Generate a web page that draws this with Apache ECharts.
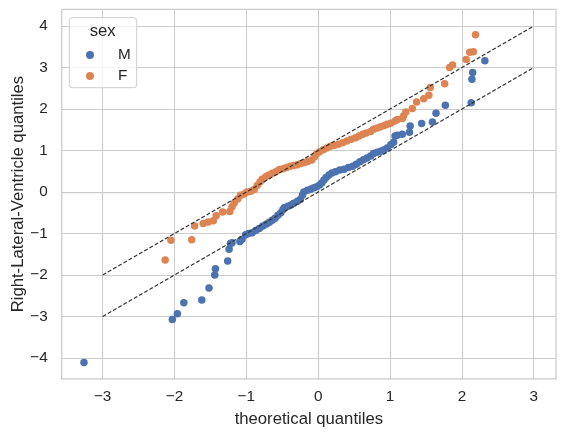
<!DOCTYPE html>
<html><head><meta charset="utf-8">
<script src="https://cdn.jsdelivr.net/npm/echarts@6/dist/echarts.min.js"></script>
<style>html,body{margin:0;padding:0;background:#fff}#c{width:567px;height:437px}</style>
</head><body><div id="c"></div>
<script>
const xTicks = [-3, -2, -1, 0, 1, 2, 3];
const yTicks = [-4, -3, -2, -1, 0, 1, 2, 3, 4];
const maleQQ = [
[-3.26,-4.11],[-2.03,-3.07],[-1.96,-2.93],[-1.87,-2.67],[-1.62,-2.60],[-1.52,-2.31],[-1.44,-2.00],[-1.43,-1.85],
[-1.26,-1.66],[-1.24,-1.38],[-1.22,-1.24],[-1.20,-1.22],[-1.09,-1.19],[-1.06,-1.14],[-1.01,-1.03],[-0.97,-1.00],
[-0.92,-0.98],[-0.87,-0.93],[-0.82,-0.88],[-0.77,-0.82],[-0.72,-0.77],[-0.68,-0.73],[-0.64,-0.68],[-0.60,-0.63],
[-0.56,-0.56],[-0.52,-0.50],[-0.49,-0.42],[-0.47,-0.37],[-0.42,-0.34],[-0.38,-0.31],[-0.34,-0.27],[-0.29,-0.22],
[-0.25,-0.18],[-0.22,-0.08],[-0.20,0.00],[-0.15,0.04],[-0.10,0.07],[-0.06,0.10],[-0.02,0.13],[0.02,0.17],
[0.05,0.22],[0.08,0.29],[0.11,0.35],[0.15,0.41],[0.19,0.46],[0.24,0.49],[0.30,0.53],[0.36,0.55],[0.42,0.59],
[0.48,0.62],[0.53,0.67],[0.58,0.73],[0.63,0.78],[0.68,0.82],[0.73,0.87],[0.77,0.93],[0.82,0.96],[0.87,0.98],
[0.91,1.01],[0.96,1.06],[1.01,1.14],[1.05,1.20],[1.07,1.35],[1.10,1.37],[1.17,1.39],[1.27,1.44],[1.28,1.59],
[1.44,1.65],[1.59,1.69],[1.64,1.90],[1.77,2.09],[2.13,2.15],[2.14,2.72],[2.15,2.88],[2.32,3.16]
];
const femaleQQ = [
[-2.13,-1.64],[-2.05,-1.16],[-1.76,-1.15],[-1.72,-0.82],[-1.60,-0.76],[-1.53,-0.72],[-1.46,-0.69],[-1.42,-0.57],
[-1.33,-0.48],[-1.23,-0.47],[-1.20,-0.36],[-1.17,-0.27],[-1.12,-0.17],[-1.08,-0.08],[-1.03,-0.05],[-0.99,0.00],
[-0.94,0.02],[-0.89,0.06],[-0.85,0.16],[-0.81,0.24],[-0.78,0.31],[-0.73,0.37],[-0.69,0.41],[-0.64,0.45],
[-0.59,0.49],[-0.54,0.54],[-0.49,0.56],[-0.44,0.59],[-0.39,0.62],[-0.34,0.64],[-0.29,0.66],[-0.24,0.69],
[-0.19,0.71],[-0.14,0.74],[-0.09,0.77],[-0.05,0.85],[-0.02,0.92],[0.02,0.97],[0.07,1.02],[0.12,1.06],
[0.17,1.10],[0.22,1.12],[0.28,1.15],[0.34,1.19],[0.40,1.23],[0.46,1.27],[0.52,1.31],[0.57,1.35],[0.62,1.39],
[0.67,1.42],[0.73,1.46],[0.77,1.51],[0.82,1.54],[0.87,1.57],[0.92,1.60],[0.96,1.63],[1.01,1.66],[1.07,1.71],
[1.10,1.75],[1.17,1.77],[1.19,1.84],[1.22,1.93],[1.31,2.01],[1.37,2.17],[1.47,2.25],[1.54,2.33],[1.56,2.52],
[1.76,2.61],[1.83,3.00],[1.87,3.06],[2.06,3.19],[2.11,3.37],[2.16,3.38],[2.19,3.79]
];
const refUpper = [[-3,-2],[3,4]];
const refLower = [[-3,-3],[3,3]];
const seriesNames = ['M', 'F'];
const colors = ['#4c72b0', '#dd8452'];

const FONT = '"Liberation Sans", Arial, sans-serif';
const TXT = '#262626';
const fmt = v => String(v).replace('-', '\u2212');

const chart = echarts.init(document.getElementById('c'), null, {renderer: 'canvas'});
chart.setOption({
  backgroundColor: '#fff',
  animation: false,
  grid: {left: 61.7, right: 11, top: 9.4, bottom: 58.2, show: true, borderColor: '#cccccc', borderWidth: 1.25,
         containLabel: false, outerBoundsMode: 'none'},
  xAxis: {
    type: 'value', min: -3.57, max: 3.31,
    name: 'theoretical quantiles', nameLocation: 'middle', nameGap: 32, nameMoveOverlap: false,
    nameTextStyle: {fontFamily: FONT, fontSize: 16.7, color: TXT},
    axisLine: {show: true, lineStyle: {color: '#cccccc', width: 1.25}},
    axisTick: {show: false, customValues: xTicks},
    axisLabel: {customValues: xTicks, formatter: fmt, fontFamily: FONT, fontSize: 15.3, color: TXT, margin: 10},
    splitLine: {show: true, lineStyle: {color: '#cccccc', width: 1}}
  },
  yAxis: {
    type: 'value', min: -4.5, max: 4.4,
    name: 'Right-Lateral-Ventricle quantiles', nameLocation: 'middle', nameGap: 34.5, nameRotate: 90, nameMoveOverlap: false,
    nameTextStyle: {fontFamily: FONT, fontSize: 16.7, color: TXT},
    axisLine: {show: true, lineStyle: {color: '#cccccc', width: 1.25}},
    axisTick: {show: false, customValues: yTicks},
    axisLabel: {customValues: yTicks, formatter: fmt, fontFamily: FONT, fontSize: 15.3, color: TXT, margin: 14},
    splitLine: {show: true, lineStyle: {color: '#cccccc', width: 1}}
  },
  graphic: [{
    type: 'rect', z: 10, shape: {x: 69.3, y: 17.7, width: 67.4, height: 70, r: 3},
    style: {fill: 'rgba(255,255,255,0.8)', stroke: '#cccccc', lineWidth: 1}
  }, {
    type: 'text', z: 11, style: {x: 102.7, y: 31, text: 'sex', fill: TXT, font: '16.7px "Liberation Sans", Arial, sans-serif', textAlign: 'center', textVerticalAlign: 'middle'}
  }],
  legend: {
    orient: 'vertical', left: 81, top: 42, z: 12,
    itemWidth: 8, itemHeight: 8, itemGap: 5,
    icon: 'circle',
    textStyle: {fontFamily: FONT, fontSize: 15.3, color: TXT, padding: [0, 0, 0, 19], lineHeight: 16},
    data: seriesNames
  },
  series: [
    {name: seriesNames[0], type: 'scatter', data: maleQQ, symbolSize: 7.5, itemStyle: {color: colors[0], opacity: 1}, z: 2},
    {name: seriesNames[1], type: 'scatter', data: femaleQQ, symbolSize: 7.5, itemStyle: {color: colors[1], opacity: 1}, z: 3},
    {type: 'line', data: refUpper, symbol: 'none', lineStyle: {color: '#333333', width: 1.25, type: [4, 2]}, z: 5, silent: true},
    {type: 'line', data: refLower, symbol: 'none', lineStyle: {color: '#333333', width: 1.25, type: [4, 2]}, z: 5, silent: true}
  ]
});
</script></body></html>
